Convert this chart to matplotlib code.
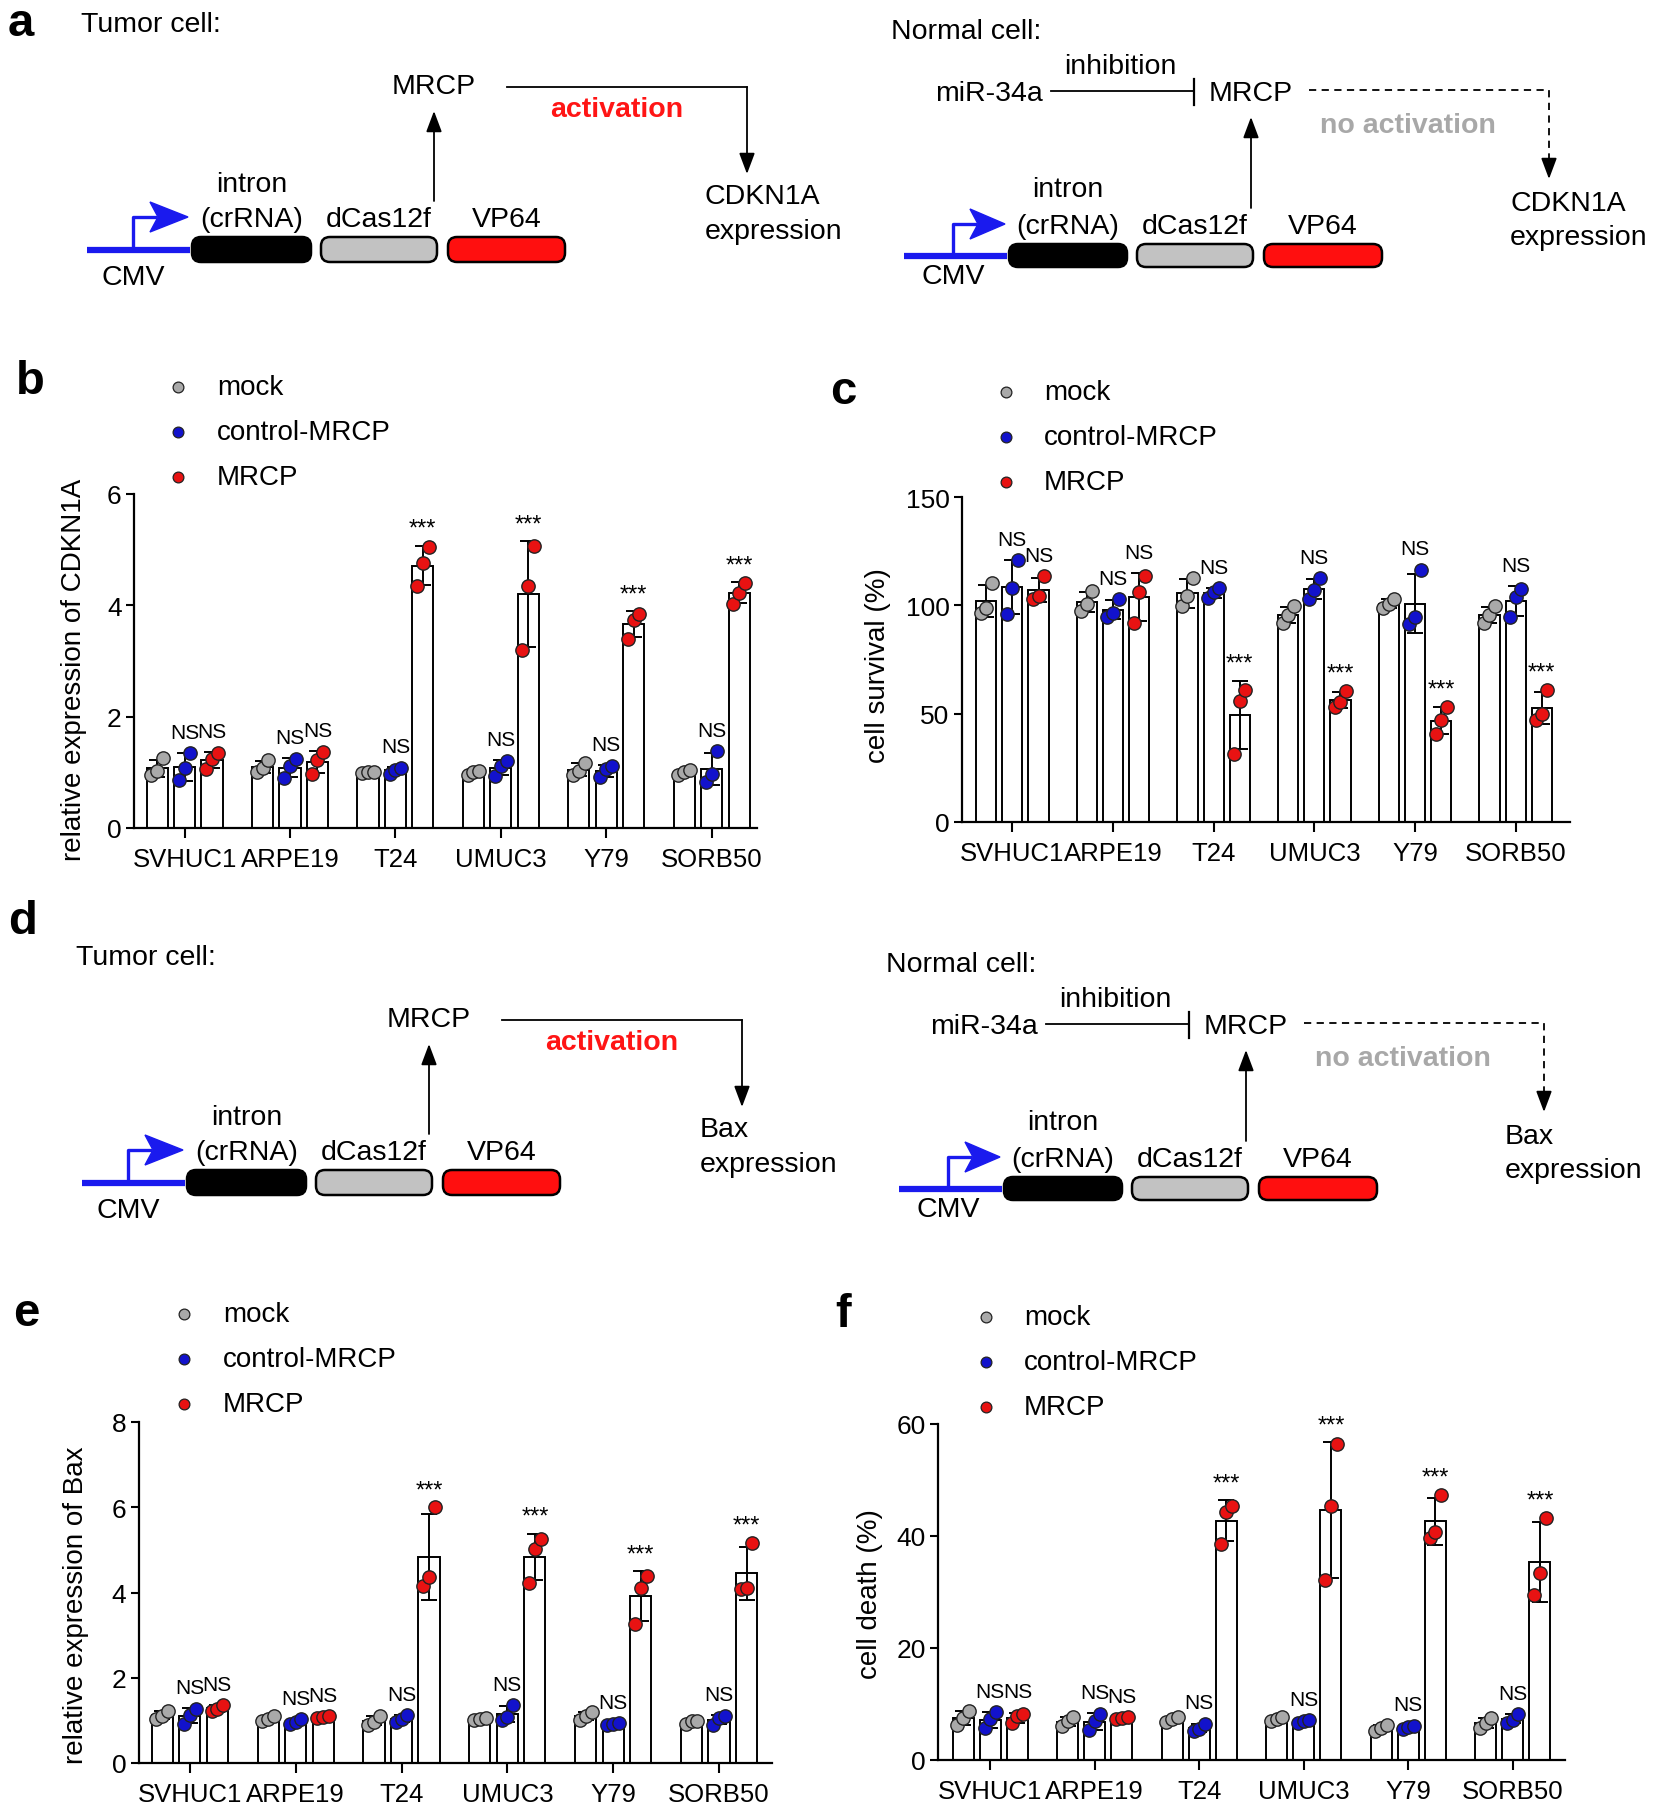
"""Recreate the MRCP schematic + bar/dot panels (CDKN1A, survival, Bax, death)."""

import matplotlib

matplotlib.use("Agg")
import matplotlib.pyplot as plt
import numpy as np
from matplotlib.patches import FancyBboxPatch, Polygon

W, H = 1654, 1815

CELL_LINES = ["SVHUC1", "ARPE19", "T24", "UMUC3", "Y79", "SORB50"]
GROUPS = ["mock", "control-MRCP", "MRCP"]
GROUP_COLORS = ["#a9a9a9", "#1212cc", "#e81212"]

# replicate values (3 per bar)
CDKN1A_MOCK = [[0.95, 1.02, 1.25], [1.0, 1.08, 1.22], [0.98, 1.0, 1.0],
               [0.96, 1.0, 1.03], [0.95, 1.03, 1.17], [0.96, 1.0, 1.04]]
CDKN1A_CTRL = [[0.86, 1.08, 1.35], [0.9, 1.12, 1.24], [0.97, 1.05, 1.08],
               [0.93, 1.12, 1.2], [0.91, 1.06, 1.11], [0.82, 0.97, 1.38]]
CDKN1A_MRCP = [[1.06, 1.24, 1.35], [0.97, 1.22, 1.36], [4.34, 4.76, 5.04],
               [3.19, 4.35, 5.07], [3.4, 3.73, 3.85], [4.03, 4.23, 4.41]]

SURVIVAL_MOCK = [[96.5, 99.0, 110.5], [97.5, 100.5, 106.5], [99.5, 104.5, 112.5],
                 [92.0, 95.5, 99.5], [99.0, 100.5, 103.0], [92.0, 95.5, 99.5]]
SURVIVAL_CTRL = [[96.0, 108.0, 121.0], [94.5, 96.5, 103.0], [103.5, 106.0, 108.0],
                 [103.0, 107.0, 112.5], [91.5, 94.5, 116.5], [94.5, 104.0, 107.5]]
SURVIVAL_MRCP = [[103.0, 104.5, 113.5], [92.0, 106.0, 113.5], [31.5, 56.0, 61.0],
                 [53.0, 55.5, 60.5], [40.5, 47.0, 53.0], [47.0, 50.0, 61.0]]

BAX_MOCK = [[1.03, 1.11, 1.23], [0.99, 1.04, 1.1], [0.9, 0.97, 1.1],
            [1.0, 1.03, 1.05], [1.0, 1.1, 1.2], [0.92, 0.98, 0.99]]
BAX_CTRL = [[0.92, 1.13, 1.27], [0.92, 0.96, 1.03], [0.97, 1.04, 1.12],
            [1.0, 1.08, 1.35], [0.9, 0.92, 0.93], [0.9, 1.06, 1.1]]
BAX_MRCP = [[1.22, 1.26, 1.36], [1.05, 1.07, 1.1], [4.16, 4.36, 6.0],
            [4.22, 5.02, 5.26], [3.26, 4.1, 4.38], [4.08, 4.1, 5.16]]

DEATH_MOCK = [[6.3, 7.5, 8.7], [6.0, 6.9, 7.7], [6.8, 7.3, 7.6],
              [7.0, 7.4, 7.6], [5.1, 5.8, 6.3], [5.7, 6.6, 7.5]]
DEATH_CTRL = [[5.7, 7.4, 8.5], [5.4, 6.9, 8.3], [5.1, 5.6, 6.5],
              [6.6, 6.9, 7.1], [5.6, 5.9, 6.1], [6.6, 7.2, 8.2]]
DEATH_MRCP = [[6.6, 7.8, 8.3], [7.3, 7.5, 7.7], [38.5, 44.3, 45.3],
              [32.2, 45.3, 56.4], [39.6, 40.8, 47.4], [29.5, 33.4, 43.3]]

CTRL_SIG = ["NS", "NS", "NS", "NS", "NS", "NS"]
MRCP_SIG = ["NS", "NS", "***", "***", "***", "***"]

BLUE = "#1a1aee"
BAR_OFFSETS = [-0.26, 0.0, 0.26]
JITTER = [-0.055, 0.0, 0.055]


def frac_rect(left, top, right, bottom):
    return [left / W, 1 - bottom / H, (right - left) / W, (bottom - top) / H]


def draw_bar_panel(fig, ov, rect, series, ylim, yticks, ylabel, label_xy, xlim, legend_xy):
    ax = fig.add_axes(frac_rect(*rect))
    for g, (vals, color) in enumerate(zip(series, GROUP_COLORS)):
        arr = np.asarray(vals, dtype=float)
        means = arr.mean(axis=1)
        sds = arr.std(axis=1, ddof=1)
        x = np.arange(len(CELL_LINES)) + BAR_OFFSETS[g]
        ax.bar(x, means, width=0.2, color="white", edgecolor="black", linewidth=1.4, zorder=2)
        ax.errorbar(x, means, yerr=sds, fmt="none", ecolor="black", elinewidth=1.4,
                    capsize=6, capthick=1.4, zorder=3)
        for j, jx in enumerate(JITTER):
            ax.scatter(x + jx, arr[:, j], s=92, color=color, edgecolor="#222222",
                       linewidth=1.0, zorder=4, clip_on=False)
        sig = [None] * 6 if g == 0 else (CTRL_SIG if g == 1 else MRCP_SIG)
        for xi, m, s, top_pt, lab in zip(x, means, sds, arr.max(axis=1), sig):
            if lab is None:
                continue
            top = max(m + s, top_pt)
            if lab == "NS":
                ax.annotate(lab, (xi, top), xytext=(0, 11), textcoords="offset points",
                            ha="center", va="baseline", fontsize=15)
            else:
                ax.annotate(lab, (xi, top), xytext=(0, 8), textcoords="offset points",
                            ha="center", va="baseline", fontsize=17)
    ax.set_xlim(*xlim)
    ax.set_ylim(*ylim)
    ax.set_yticks(yticks)
    ax.set_xticks(np.arange(len(CELL_LINES)), CELL_LINES)
    for side in ("top", "right"):
        ax.spines[side].set_visible(False)
    for side in ("left", "bottom"):
        ax.spines[side].set_linewidth(1.6)
    ax.tick_params(axis="x", length=7, width=1.5, pad=7, labelsize=18.5)
    ax.tick_params(axis="y", length=6, width=1.5, pad=3, labelsize=19)
    ax.set_ylabel(ylabel, fontsize=20)
    ax.yaxis.set_label_coords(*label_xy)
    ax.patch.set_alpha(0)

    mx, my, tx = legend_xy
    for i, (name, color) in enumerate(zip(GROUPS, GROUP_COLORS)):
        ov.scatter([mx], [my + 45 * i], s=60, color=color, edgecolor="#222222", linewidth=0.9)
        ov.text(tx, my + 45 * i, name, fontsize=20, va="center", ha="left")
    return ax


def rbox(ov, x0, x1, y0, y1, color):
    ov.add_patch(FancyBboxPatch((x0 + 4, y0), x1 - x0 - 8, y1 - y0,
                                boxstyle="round,pad=0,rounding_size=9",
                                facecolor=color, edgecolor="black", linewidth=1.8, zorder=3))


def construct(ov, dx, dy, line_x0, prom_x, boxes, y0, y1, lab_y, intron_y, cmv_y):
    yc = (y0 + y1) / 2 + dy
    bx0 = boxes[0][0] + dx
    ov.plot([line_x0 + dx, bx0 + 2], [yc, yc], color=BLUE, lw=4.5, solid_capstyle="butt", zorder=2)
    px = prom_x + dx
    ay = y0 + dy - 20
    ov.plot([px, px, px + 22], [yc, ay, ay], color=BLUE, lw=2.4, zorder=2)
    ov.add_patch(Polygon([(px + 17, ay - 15), (bx0, ay), (px + 17, ay + 15), (px + 25, ay)],
                         closed=True, facecolor=BLUE, edgecolor=BLUE, zorder=3))
    colors = ["black", "#c2c2c2", "#ff0f0f"]
    for (a, b), c in zip(boxes, colors):
        rbox(ov, a + dx, b + dx, y0 + dy, y1 + dy, c)
    centers = [(a + b) / 2 + dx for a, b in boxes]
    ov.text(centers[0], intron_y + dy, "intron", fontsize=20.5, ha="center", va="center")
    ov.text(centers[0], lab_y + dy, "(crRNA)", fontsize=20.5, ha="center", va="center")
    ov.text(centers[1], lab_y + dy, "dCas12f", fontsize=20.5, ha="center", va="center")
    ov.text(centers[2], lab_y + dy, "VP64", fontsize=20.5, ha="center", va="center")
    ov.text(px, cmv_y + dy, "CMV", fontsize=20.5, ha="center", va="center")


def arrow(ov, x0, y0, x1, y1):
    ov.annotate("", xy=(x1, y1), xytext=(x0, y0),
                arrowprops=dict(arrowstyle="-|>,head_length=0.8,head_width=0.3",
                                mutation_scale=16, color="black", lw=1.3,
                                shrinkA=0, shrinkB=0))


def tumor_scheme(ov, dx, dy, gene):
    ov.text(81 + dx, 25 + dy, "Tumor cell:", fontsize=20.5, ha="left", va="center")
    construct(ov, dx, dy, 87, 133, [(188, 315), (317, 441), (444, 569)], 238, 263, 220, 185, 278)
    ov.text(434 + dx, 87 + dy, "MRCP", fontsize=20.5, ha="center", va="center")
    arrow(ov, 434 + dx, 202 + dy, 434 + dx, 112 + dy)
    ov.plot([507 + dx, 747 + dx], [88 + dy, 88 + dy], color="black", lw=1.3)
    arrow(ov, 747 + dx, 88 + dy, 747 + dx, 175 + dy)
    ov.text(617 + dx, 110 + dy, "activation", fontsize=20.5, color="#ff1515",
            fontweight="bold", ha="center", va="center")
    ov.text(705 + dx, 197 + dy, gene, fontsize=20.5, ha="left", va="center")
    ov.text(705 + dx, 232 + dy, "expression", fontsize=20.5, ha="left", va="center")


def normal_scheme(ov, dx, dy, gene):
    ov.text(891 + dx, 32 + dy, "Normal cell:", fontsize=20.5, ha="left", va="center")
    construct(ov, dx, dy, 904, 953, [(1005, 1131), (1133, 1257), (1260, 1386)], 245, 268, 227, 190, 277)
    ov.text(989 + dx, 94 + dy, "miR-34a", fontsize=20.5, ha="center", va="center")
    ov.plot([1051 + dx, 1194 + dx], [92 + dy, 92 + dy], color="black", lw=1.3)
    ov.plot([1194 + dx, 1194 + dx], [80 + dy, 106 + dy], color="black", lw=1.6)
    ov.text(1120 + dx, 67 + dy, "inhibition", fontsize=20.5, ha="center", va="center")
    ov.text(1251 + dx, 94 + dy, "MRCP", fontsize=20.5, ha="center", va="center")
    arrow(ov, 1251 + dx, 209 + dy, 1251 + dx, 118 + dy)
    ov.plot([1309 + dx, 1549 + dx, 1549 + dx], [91 + dy, 91 + dy, 166 + dy],
            color="black", lw=1.3, ls=(0, (4, 3)))
    arrow(ov, 1549 + dx, 164 + dy, 1549 + dx, 180 + dy)
    ov.text(1408 + dx, 126 + dy, "no activation", fontsize=20.5, color="#a8a8a8",
            fontweight="bold", ha="center", va="center")
    ov.text(1510 + dx, 204 + dy, gene, fontsize=20.5, ha="left", va="center")
    ov.text(1510 + dx, 238 + dy, "expression", fontsize=20.5, ha="left", va="center")


def main() -> None:
    plt.rcParams["font.family"] = ["Liberation Sans", "DejaVu Sans"]
    fig = plt.figure(figsize=(W / 100, H / 100), dpi=100)
    ov = fig.add_axes([0, 0, 1, 1])
    ov.set_xlim(0, W)
    ov.set_ylim(H, 0)
    ov.axis("off")

    for letter, x, y in [("a", 8, 36), ("b", 16, 394), ("c", 830, 404),
                         ("d", 8, 934), ("e", 13, 1326), ("f", 835, 1327)]:
        ov.text(x, y, letter, fontsize=34, fontweight="bold", ha="left", va="baseline")

    tumor_scheme(ov, 0, 0, "CDKN1A")
    normal_scheme(ov, 0, 0, "CDKN1A")
    tumor_scheme(ov, -5, 933, "Bax")
    normal_scheme(ov, -5, 933, "Bax")

    draw_bar_panel(fig, ov, (134, 495, 757, 829), [CDKN1A_MOCK, CDKN1A_CTRL, CDKN1A_MRCP],
                   (0, 6), [0, 2, 4, 6], "relative expression of CDKN1A", (-0.075, 0.476),
                   (-0.48, 5.43), (178, 388, 217))
    draw_bar_panel(fig, ov, (962, 498, 1570, 823), [SURVIVAL_MOCK, SURVIVAL_CTRL, SURVIVAL_MRCP],
                   (0, 150), [0, 50, 100, 150], "cell survival (%)", (-0.117, 0.483),
                   (-0.5, 5.54), (1006, 393, 1044))
    draw_bar_panel(fig, ov, (139, 1423, 772, 1764), [BAX_MOCK, BAX_CTRL, BAX_MRCP],
                   (0, 8), [0, 2, 4, 6, 8], "relative expression of Bax", (-0.079, 0.466),
                   (-0.48, 5.5), (184, 1315, 223))
    draw_bar_panel(fig, ov, (938, 1425, 1565, 1761), [DEATH_MOCK, DEATH_CTRL, DEATH_MRCP],
                   (0, 60), [0, 20, 40, 60], "cell death (%)", (-0.088, 0.497),
                   (-0.5, 5.5), (986, 1318, 1024))

    fig.savefig("out.png", dpi=100)
    plt.close(fig)


if __name__ == "__main__":
    main()
